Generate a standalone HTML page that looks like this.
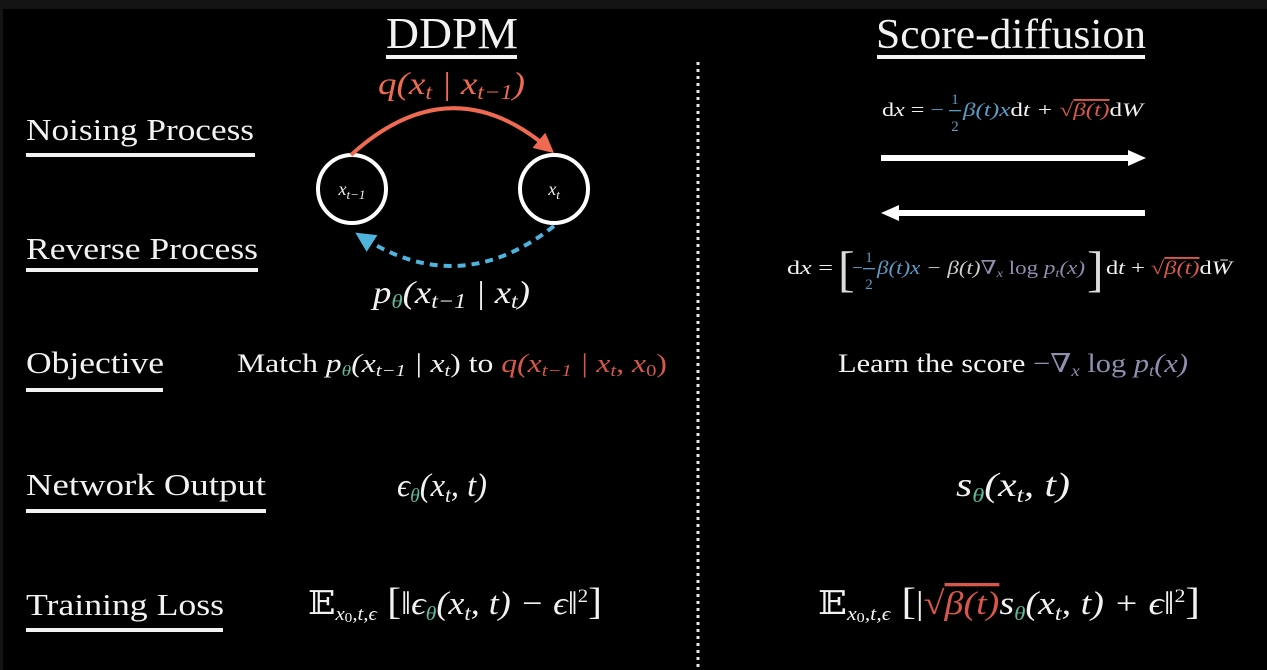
<!DOCTYPE html>
<html><head><meta charset="utf-8"><style>
html,body{margin:0;padding:0;background:#000;}
svg{display:block;font-family:"Liberation Serif","DejaVu Serif",serif;}
.w{fill:#f2f2f2}
.i{font-style:italic}
</style></head><body>
<svg width="1267" height="670" viewBox="0 0 1267 670" xmlns="http://www.w3.org/2000/svg">
<rect width="1267" height="670" fill="#000"/>
<rect width="1267" height="9" fill="#141414"/>
<rect width="3" height="670" fill="#141414"/>
<defs>
<marker id="ar" viewBox="0 0 10 10" refX="6" refY="5" markerWidth="5" markerHeight="5" orient="auto"><path d="M0,0 L10,5 L0,10 z" fill="#ee6a50"/></marker>
<marker id="ab" viewBox="0 0 10 10" refX="6" refY="5" markerWidth="5" markerHeight="5" orient="auto"><path d="M0,0 L10,5 L0,10 z" fill="#4fb4dc"/></marker>
</defs>

<text x="452" y="48" font-size="44" text-anchor="middle" class="w" textLength="132" lengthAdjust="spacingAndGlyphs">DDPM</text>
<rect x="386" y="55" width="131" height="4" fill="#f2f2f2"/>
<text x="1011" y="48" font-size="42" text-anchor="middle" class="w" textLength="270" lengthAdjust="spacingAndGlyphs">Score-diffusion</text>
<rect x="877" y="55" width="268" height="4" fill="#f2f2f2"/>

<line x1="698" y1="62" x2="698" y2="670" stroke="#e8e8e8" stroke-width="3" stroke-dasharray="3,4"/>

<g font-size="31" class="w">
<text x="26" y="140" textLength="228" lengthAdjust="spacingAndGlyphs">Noising Process</text>
<text x="26" y="259" textLength="232" lengthAdjust="spacingAndGlyphs">Reverse Process</text>
<text x="26" y="373" textLength="138" lengthAdjust="spacingAndGlyphs">Objective</text>
<text x="26" y="495" textLength="240" lengthAdjust="spacingAndGlyphs">Network Output</text>
<text x="26" y="615" textLength="198" lengthAdjust="spacingAndGlyphs">Training Loss</text>
</g>
<g fill="#f2f2f2">
<rect x="26" y="153" width="229" height="4"/>
<rect x="26" y="268" width="232" height="4"/>
<rect x="26" y="388" width="137" height="4"/>
<rect x="26" y="509" width="240" height="4"/>
<rect x="26" y="628" width="197" height="4"/>
</g>

<circle cx="352" cy="189" r="34" fill="none" stroke="#fff" stroke-width="4"/>
<circle cx="554" cy="189" r="34" fill="none" stroke="#fff" stroke-width="4"/>
<text x="352" y="195" font-size="18" text-anchor="middle" class="w i">x<tspan font-size="13" dy="4">t−1</tspan></text>
<text x="554" y="195" font-size="18" text-anchor="middle" class="w i">x<tspan font-size="13" dy="4">t</tspan></text>
<path d="M351,155 Q450,65 548,148" fill="none" stroke="#ee6a50" stroke-width="4" marker-end="url(#ar)"/>
<path d="M554,226 Q460,300 362,237" fill="none" stroke="#4fb4dc" stroke-width="4" stroke-dasharray="8,6" marker-end="url(#ab)"/>
<text x="378" y="94" font-size="32" fill="#ee6a50" class="i" textLength="147" lengthAdjust="spacingAndGlyphs">q(x<tspan font-size="21" dy="5">t</tspan><tspan dy="-5"> | x</tspan><tspan font-size="21" dy="5">t−1</tspan><tspan dy="-5">)</tspan></text>
<text x="373" y="303" font-size="32" class="w i" textLength="157" lengthAdjust="spacingAndGlyphs">p<tspan font-size="20" dy="5" fill="#5fb89a">θ</tspan><tspan dy="-5">(x</tspan><tspan font-size="21" dy="5">t−1</tspan><tspan dy="-5"> | x</tspan><tspan font-size="21" dy="5">t</tspan><tspan dy="-5">)</tspan></text>

<text x="237" y="372" font-size="26" class="w" textLength="430" lengthAdjust="spacingAndGlyphs">Match <tspan class="i">p</tspan><tspan font-size="16" dy="4" fill="#5fb89a" class="i">θ</tspan><tspan dy="-4" class="i">(x</tspan><tspan font-size="17" dy="4" class="i">t−1</tspan><tspan dy="-4" class="i"> | x</tspan><tspan font-size="17" dy="4" class="i">t</tspan><tspan dy="-4">) to </tspan><tspan fill="#d9574a" class="i">q(x</tspan><tspan font-size="17" dy="4" fill="#d9574a" class="i">t−1</tspan><tspan dy="-4" fill="#d9574a" class="i"> | x</tspan><tspan font-size="17" dy="4" fill="#d9574a" class="i">t</tspan><tspan dy="-4" fill="#d9574a" class="i">, x</tspan><tspan font-size="17" dy="4" fill="#d9574a">0</tspan><tspan dy="-4" fill="#d9574a">)</tspan></text>

<text x="397" y="496" font-size="33" class="w i" textLength="90" lengthAdjust="spacingAndGlyphs">ϵ<tspan font-size="20" dy="6" fill="#5fb89a">θ</tspan><tspan dy="-6">(x</tspan><tspan font-size="21" dy="6">t</tspan><tspan dy="-6">, t)</tspan></text>
<text x="956" y="496" font-size="34" class="w i" textLength="114" lengthAdjust="spacingAndGlyphs">s<tspan font-size="20" dy="6" fill="#5fb89a">θ</tspan><tspan dy="-6">(x</tspan><tspan font-size="21" dy="6">t</tspan><tspan dy="-6">, t)</tspan></text>

<text x="308" y="614" font-size="33" class="w" textLength="294" lengthAdjust="spacingAndGlyphs">𝔼<tspan font-size="19" dy="6" class="i">x</tspan><tspan font-size="14" dy="2">0</tspan><tspan font-size="19" dy="-2" class="i">,t,ϵ</tspan><tspan dy="-6" font-size="38"> [</tspan><tspan>‖</tspan><tspan class="i">ϵ</tspan><tspan font-size="20" dy="6" fill="#5fb89a" class="i">θ</tspan><tspan dy="-6" class="i">(x</tspan><tspan font-size="21" dy="6" class="i">t</tspan><tspan dy="-6" class="i">, t) − ϵ</tspan><tspan>‖</tspan><tspan font-size="19" dy="-12">2</tspan><tspan font-size="38" dy="12">]</tspan></text>

<text x="818" y="614" font-size="33" class="w" textLength="382" lengthAdjust="spacingAndGlyphs">𝔼<tspan font-size="19" dy="6" class="i">x</tspan><tspan font-size="14" dy="2">0</tspan><tspan font-size="19" dy="-2" class="i">,t,ϵ</tspan><tspan dy="-6" font-size="38"> [</tspan><tspan>|</tspan><tspan fill="#d9574a">√</tspan><tspan fill="#d9574a" class="i" text-decoration="overline">β(t)</tspan><tspan class="i">s</tspan><tspan font-size="20" dy="6" fill="#5fb89a" class="i">θ</tspan><tspan dy="-6" class="i">(x</tspan><tspan font-size="21" dy="6" class="i">t</tspan><tspan dy="-6" class="i">, t) + ϵ</tspan><tspan>‖</tspan><tspan font-size="19" dy="-12">2</tspan><tspan font-size="38" dy="12">]</tspan></text>

<text x="838" y="372" font-size="26" class="w" textLength="350" lengthAdjust="spacingAndGlyphs">Learn the score  <tspan fill="#8f8fb0">−</tspan><tspan fill="#8f8fb0">∇</tspan><tspan fill="#8f8fb0" font-size="16" dy="4" class="i">x</tspan><tspan fill="#8f8fb0" dy="-4"> log </tspan><tspan fill="#8f8fb0" class="i">p</tspan><tspan fill="#8f8fb0" font-size="16" dy="4" class="i">t</tspan><tspan fill="#8f8fb0" dy="-4" class="i">(x)</tspan></text>

<!-- top SDE -->
<text x="882" y="116" font-size="19" class="w" textLength="62" lengthAdjust="spacingAndGlyphs">d<tspan class="i">x</tspan> = <tspan fill="#5b9cc4">−</tspan></text>
<text x="955" y="104" font-size="15" fill="#5b9cc4" text-anchor="middle">1</text>
<rect x="949" y="110" width="12" height="1.3" fill="#5b9cc4"/>
<text x="955" y="131" font-size="15" fill="#5b9cc4" text-anchor="middle">2</text>
<text x="963" y="116" font-size="19" class="w i" textLength="180" lengthAdjust="spacingAndGlyphs"><tspan fill="#5b9cc4">β(t)x</tspan><tspan font-style="normal">d</tspan>t + <tspan fill="#d9574a" font-style="normal">√</tspan><tspan fill="#d9574a" text-decoration="overline">β(t)</tspan><tspan font-style="normal">d</tspan>W</text>

<path d="M881,158 H1130" stroke="#fff" stroke-width="6"/>
<path d="M1128,150 L1146,158 L1128,166 z" fill="#fff"/>
<path d="M1145,213 H898" stroke="#fff" stroke-width="6"/>
<path d="M899,205 L881,213 L899,221 z" fill="#fff"/>

<!-- bottom SDE -->
<text x="787" y="274" font-size="19" class="w" textLength="46" lengthAdjust="spacingAndGlyphs">d<tspan class="i">x</tspan> =</text>
<text x="838" y="286" font-size="50" fill="#dcdcdc">[</text>
<text x="852" y="274" font-size="19" fill="#5b9cc4">−</text>
<text x="869" y="262" font-size="15" fill="#5b9cc4" text-anchor="middle">1</text>
<rect x="863" y="268" width="12" height="1.3" fill="#5b9cc4"/>
<text x="869" y="289" font-size="15" fill="#5b9cc4" text-anchor="middle">2</text>
<text x="877" y="274" font-size="19" class="i" textLength="208" lengthAdjust="spacingAndGlyphs"><tspan fill="#5b9cc4">β(t)x</tspan><tspan fill="#cfcfcf"> − β(t)</tspan><tspan fill="#8f8fb0" font-style="normal">∇</tspan><tspan fill="#8f8fb0" font-size="12" dy="3">x</tspan><tspan fill="#8f8fb0" dy="-3" font-style="normal"> log </tspan><tspan fill="#8f8fb0">p</tspan><tspan fill="#8f8fb0" font-size="12" dy="3">t</tspan><tspan fill="#8f8fb0" dy="-3">(x)</tspan></text>
<text x="1087" y="286" font-size="50" fill="#dcdcdc">]</text>
<text x="1106" y="274" font-size="19" class="w" textLength="126" lengthAdjust="spacingAndGlyphs">d<tspan class="i">t</tspan> + <tspan fill="#d9574a">√</tspan><tspan fill="#d9574a" class="i" text-decoration="overline">β(t)</tspan>d<tspan class="i">W̄</tspan></text>
</svg>
</body></html>
